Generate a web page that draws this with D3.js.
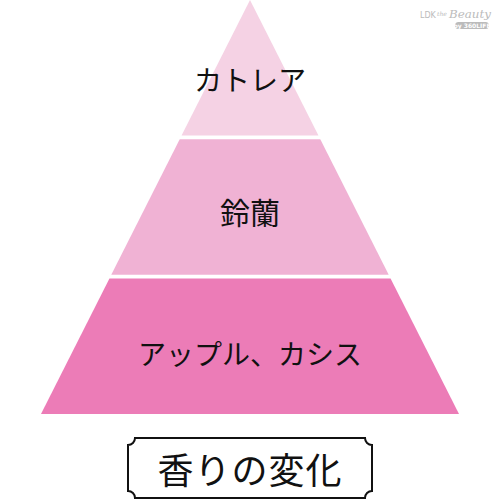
<!DOCTYPE html>
<html>
<head>
<meta charset="utf-8">
<script src="https://cdn.jsdelivr.net/npm/d3@7"></script>
<style>
	html, body { margin: 0; padding: 0; background: #fff; }
	svg { display: block; }
</style>
</head>
<body>
<div id="chart"></div>
<script>
// tiers from top of the pyramid to the base
var tiers = ["カトレア", "鈴蘭", "アップル、カシス"];
var tierColors = ["#f5d2e4", "#f0b2d4", "#ec7cb7"];
var caption = "香りの変化";

var W = 500, H = 500;
var apexX = 250, baseY = 414, halfBase = 209;

var svg = d3.select("#chart").append("svg")
	.attr("width", W)
	.attr("height", H);

var y = d3.scaleBand()
	.domain(tiers)
	.range([0, baseY])
	.paddingInner(0.026)
	.paddingOuter(0);

// half width of the pyramid at a given height
var halfW = d3.scaleLinear()
	.domain([0, baseY])
	.range([0, halfBase]);

function tierPath(name) {
	var y0 = y(name), y1 = y(name) + y.bandwidth();
	var p = d3.path();
	p.moveTo(apexX - halfW(y0), y0);
	p.lineTo(apexX + halfW(y0), y0);
	p.lineTo(apexX + halfW(y1), y1);
	p.lineTo(apexX - halfW(y1), y1);
	p.closePath();
	return p.toString();
}

var g = svg.append("g");

g.selectAll("path.tier")
	.data(tiers)
	.enter()
		.append("path")
			.attr("class", "tier")
			.attr("d", tierPath)
			.attr("fill", function (d, i) { return tierColors[i]; });

var labelOffset = [11, 4, 7];
g.selectAll("text.tier")
	.data(tiers)
	.enter()
		.append("text")
			.attr("class", "tier")
			.attr("x", apexX)
			.attr("y", function (d, i) { return y(d) + y.bandwidth() / 2 + labelOffset[i]; })
			.attr("text-anchor", "middle")
			.attr("dominant-baseline", "central")
			.attr("font-family", "'Noto Sans CJK JP', 'Noto Sans', sans-serif")
			.attr("font-size", function (d, i) { return i == 1 ? 30 : 28; })
			.attr("fill", "#111")
			.text(function (d) { return d; });

// caption box with notched (inverted round) corners
var bx0 = 128, bx1 = 372, by0 = 438, by1 = 498, r = 7;
var box = d3.path();
box.moveTo(bx0 + r, by0);
box.lineTo(bx1 - r, by0);
box.arc(bx1, by0, r, Math.PI, Math.PI / 2, true);
box.lineTo(bx1, by1 - r);
box.arc(bx1, by1, r, -Math.PI / 2, Math.PI, true);
box.lineTo(bx0 + r, by1);
box.arc(bx0, by1, r, 0, -Math.PI / 2, true);
box.lineTo(bx0, by0 + r);
box.arc(bx0, by0, r, Math.PI / 2, 0, true);
box.closePath();

svg.append("path")
	.attr("d", box.toString())
	.attr("fill", "#fff")
	.attr("stroke", "#111")
	.attr("stroke-width", 2);

svg.append("text")
	.attr("x", (bx0 + bx1) / 2)
	.attr("y", (by0 + by1) / 2)
	.attr("text-anchor", "middle")
	.attr("dominant-baseline", "central")
	.attr("font-family", "'Noto Sans CJK JP', 'Noto Sans', sans-serif")
	.attr("font-size", 36)
	.attr("letter-spacing", 1)
	.attr("fill", "#111")
	.text(caption);

// watermark
var wm = svg.append("g").attr("fill", "#bbb");
wm.append("text")
	.attr("x", 420).attr("y", 18)
	.attr("font-family", "'DejaVu Sans', sans-serif")
	.attr("font-size", 8)
	.text("LDK");
wm.append("text")
	.attr("x", 437).attr("y", 16)
	.attr("font-family", "'DejaVu Serif', serif")
	.attr("font-style", "italic")
	.attr("font-size", 6)
	.text("the");
wm.append("text")
	.attr("x", 449).attr("y", 18)
	.attr("font-family", "'DejaVu Serif', serif")
	.attr("font-style", "italic")
	.attr("font-size", 11)
	.attr("textLength", 42)
	.attr("lengthAdjust", "spacingAndGlyphs")
	.text("Beauty");
wm.append("rect")
	.attr("x", 455).attr("y", 22)
	.attr("width", 34).attr("height", 7)
	.attr("rx", 3.5);
wm.append("text")
	.attr("x", 472).attr("y", 27.5)
	.attr("text-anchor", "middle")
	.attr("font-family", "'DejaVu Sans', sans-serif")
	.attr("font-size", 6)
	.attr("font-weight", "bold")
	.attr("fill", "#fff")
	.text("by 360LIFE");
</script>
</body>
</html>
